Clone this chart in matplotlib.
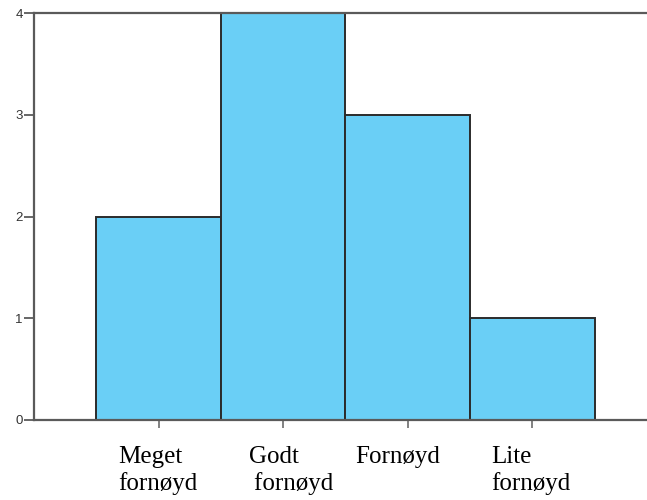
import numpy as np
import matplotlib.pyplot as plt
import matplotlib.transforms as mtransforms

# data
categories = ["Meget\nfornøyd", "Godt\n\u2009fornøyd", "Fornøyd", "Lite\nfornøyd"]
counts = [2, 4, 3, 1]
yticks = [0, 1, 2, 3, 4]

# small horizontal nudges (points) so the labels sit like in the original
label_nudge = [-0.5, 5.4, -7, -1.2]

bar_color = "#6ACFF6"
edge_color = "#2b2b2b"
axis_color = "#5a5a5a"

fig = plt.figure(figsize=(6.47, 5.0), dpi=100, facecolor="white")
ax = fig.add_axes([34 / 647, 80 / 500, 1 - 34 / 647, 407 / 500])

x = np.arange(1, len(counts) + 1)
ax.bar(x, counts, width=1.0, color=bar_color, edgecolor=edge_color,
       linewidth=1.4, zorder=2)

ax.set_xlim(0, 4.92)
ax.set_ylim(0, 4)

for side in ["left", "bottom", "top"]:
    ax.spines[side].set_color(axis_color)
    ax.spines[side].set_linewidth(1.6)
ax.spines["right"].set_visible(False)

ax.set_yticks(yticks)
ax.set_yticklabels([str(v) for v in yticks], fontsize=9.5,
                   family="Liberation Sans", color="#333333")
ax.tick_params(axis="y", length=7, width=1.3, color=axis_color, pad=1)

ax.set_xticks(x)
ax.set_xticklabels(categories, fontsize=18, family="Liberation Serif",
                   color="black", multialignment="left", linespacing=1.2)
ax.tick_params(axis="x", length=6, width=1.3, color="#777777", pad=13)
for lab, dx in zip(ax.get_xticklabels(), label_nudge):
    lab.set_transform(lab.get_transform() +
                      mtransforms.ScaledTranslation(dx / 72, 0, fig.dpi_scale_trans))

fig.savefig("out.png", dpi=100)
